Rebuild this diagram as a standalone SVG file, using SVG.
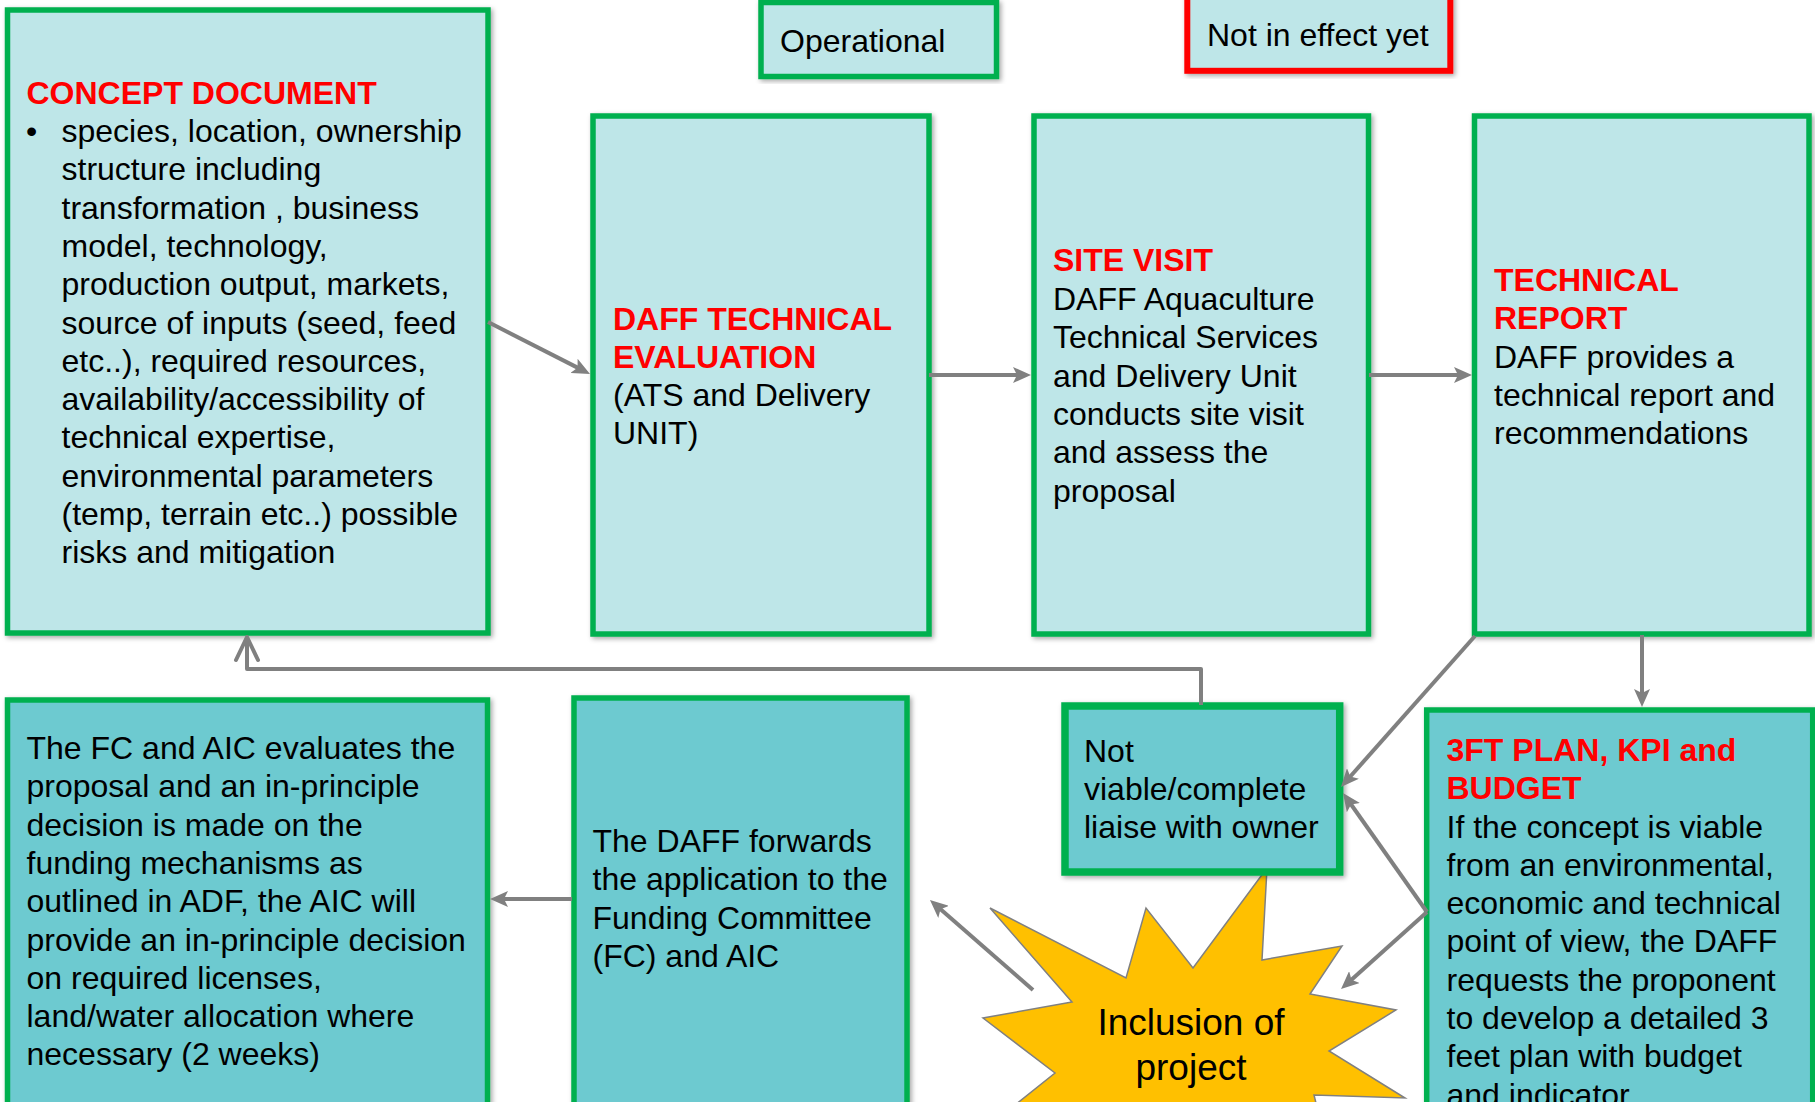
<svg xmlns="http://www.w3.org/2000/svg" width="1815" height="1102" viewBox="0 0 1815 1102">
<defs>
<style>
.lt{fill:#BEE6E8;stroke:#00B050;stroke-width:5.5}
.dk{fill:#6DCAD0;stroke:#00B050;stroke-width:5.5}
.t{font-family:"Liberation Sans",Arial,sans-serif;font-size:32px;fill:#000}
.h{font-family:"Liberation Sans",Arial,sans-serif;font-size:32px;font-weight:bold;fill:#FF0000}
.c{fill:none;stroke:#808080;stroke-width:4}
</style>
<filter id="sh" x="-10%" y="-10%" width="120%" height="120%">
<feDropShadow dx="2" dy="2" stdDeviation="2.5" flood-color="#000" flood-opacity="0.35"/>
</filter>
<marker id="ar" viewBox="0 0 18 16" refX="10" refY="8" markerWidth="18" markerHeight="16" markerUnits="userSpaceOnUse" orient="auto">
<path d="M0,0 L18,8 L0,16 L4,8 z" fill="#808080"/>
</marker>
<marker id="op" viewBox="-28 -14 32 28" refX="0" refY="0" markerWidth="32" markerHeight="28" markerUnits="userSpaceOnUse" orient="auto">
<path d="M-23,-11 L0,0 L-23,11" fill="none" stroke="#808080" stroke-width="4" stroke-linecap="round" stroke-linejoin="round"/>
</marker>
</defs>
<rect width="1815" height="1102" fill="#FFFFFF"/>

<g id="legend-operational">
<rect class="lt" x="761" y="2.5" width="235.5" height="74" filter="url(#sh)"/>
<text class="t" x="780" y="52">Operational</text>
</g>
<g id="legend-not-in-effect">
<rect x="1187.3" y="-5" width="263" height="75.8" fill="#BEE6E8" stroke="#FF0000" stroke-width="6" filter="url(#sh)"/>
<text class="t" x="1207" y="46">Not in effect yet</text>
</g>

<g id="star">
<polygon points="1267,868 1262,960 1342,946 1310,994 1396,1010 1329,1051 1405,1098 1314,1095 1330,1160 1190,1150 1060,1160 990,1125 1055,1073 983,1018 1072,1002 990,908 1126,978 1146,908 1193,968" fill="#FFC000" stroke="#808080" stroke-width="1.5"/>
<text class="t" style="font-size:37px" x="1191" y="1035" text-anchor="middle">Inclusion of</text>
<text class="t" style="font-size:37px" x="1191" y="1080" text-anchor="middle">project</text>
</g>

<g id="concept-document">
<rect class="lt" x="7.5" y="10" width="480.5" height="623" filter="url(#sh)"/>
<text class="h" x="26.5" y="104">CONCEPT DOCUMENT</text>
<text class="t" x="26" y="142">•</text>
<text class="t">
<tspan x="61.5" y="142">species, location, ownership</tspan>
<tspan x="61.5" y="180.3">structure including</tspan>
<tspan x="61.5" y="218.6">transformation , business</tspan>
<tspan x="61.5" y="256.9">model, technology,</tspan>
<tspan x="61.5" y="295.2">production output, markets,</tspan>
<tspan x="61.5" y="333.5">source of inputs (seed, feed</tspan>
<tspan x="61.5" y="371.8">etc..), required resources,</tspan>
<tspan x="61.5" y="410.1">availability/accessibility of</tspan>
<tspan x="61.5" y="448.4">technical expertise,</tspan>
<tspan x="61.5" y="486.7">environmental parameters</tspan>
<tspan x="61.5" y="525">(temp, terrain etc..) possible</tspan>
<tspan x="61.5" y="563.3">risks and mitigation</tspan>
</text>
</g>

<g id="daff-technical-evaluation">
<rect class="lt" x="593" y="116" width="336" height="518" filter="url(#sh)"/>
<text class="h"><tspan x="613" y="330">DAFF TECHNICAL</tspan><tspan x="613" y="368">EVALUATION</tspan></text>
<text class="t"><tspan x="613" y="406">(ATS and Delivery</tspan><tspan x="613" y="444">UNIT)</tspan></text>
</g>

<g id="site-visit">
<rect class="lt" x="1034" y="116" width="334.5" height="518" filter="url(#sh)"/>
<text class="h" x="1053" y="271">SITE VISIT</text>
<text class="t">
<tspan x="1053" y="310">DAFF Aquaculture</tspan>
<tspan x="1053" y="348.3">Technical Services</tspan>
<tspan x="1053" y="386.6">and Delivery Unit</tspan>
<tspan x="1053" y="424.9">conducts site visit</tspan>
<tspan x="1053" y="463.2">and assess the</tspan>
<tspan x="1053" y="501.5">proposal</tspan>
</text>
</g>

<g id="technical-report">
<rect class="lt" x="1474.5" y="116" width="334.5" height="518" filter="url(#sh)"/>
<text class="h"><tspan x="1494" y="291">TECHNICAL</tspan><tspan x="1494" y="329">REPORT</tspan></text>
<text class="t">
<tspan x="1494" y="367.5">DAFF provides a</tspan>
<tspan x="1494" y="405.8">technical report and</tspan>
<tspan x="1494" y="444.1">recommendations</tspan>
</text>
</g>

<g id="fc-aic-evaluation">
<rect class="dk" x="7.5" y="700" width="480" height="430" filter="url(#sh)"/>
<text class="t">
<tspan x="26.5" y="759">The FC and AIC evaluates the</tspan>
<tspan x="26.5" y="797.3">proposal and an in-principle</tspan>
<tspan x="26.5" y="835.6">decision is made on the</tspan>
<tspan x="26.5" y="873.9">funding mechanisms as</tspan>
<tspan x="26.5" y="912.2">outlined in ADF, the AIC will</tspan>
<tspan x="26.5" y="950.5">provide an in-principle decision</tspan>
<tspan x="26.5" y="988.8">on required licenses,</tspan>
<tspan x="26.5" y="1027.1">land/water allocation where</tspan>
<tspan x="26.5" y="1065.4">necessary (2 weeks)</tspan>
</text>
</g>

<g id="daff-forwards">
<rect class="dk" x="574" y="698" width="333" height="430" filter="url(#sh)"/>
<text class="t">
<tspan x="592.5" y="852">The DAFF forwards</tspan>
<tspan x="592.5" y="890.3">the application to the</tspan>
<tspan x="592.5" y="928.6">Funding Committee</tspan>
<tspan x="592.5" y="966.9">(FC) and AIC</tspan>
</text>
</g>

<g id="not-viable">
<rect class="dk" x="1065" y="706" width="274.7" height="166" style="stroke-width:7.5" filter="url(#sh)"/>
<text class="t">
<tspan x="1084" y="762">Not</tspan>
<tspan x="1084" y="799.5">viable/complete</tspan>
<tspan x="1084" y="837.5">liaise with owner</tspan>
</text>
</g>

<g id="three-ft-plan">
<rect class="dk" x="1426.7" y="710" width="386" height="430" filter="url(#sh)"/>
<text class="h"><tspan x="1446.5" y="761">3FT PLAN, KPI and</tspan><tspan x="1446.5" y="799">BUDGET</tspan></text>
<text class="t">
<tspan x="1446.5" y="837.5">If the concept is viable</tspan>
<tspan x="1446.5" y="875.8">from an environmental,</tspan>
<tspan x="1446.5" y="914.1">economic and technical</tspan>
<tspan x="1446.5" y="952.4">point of view, the DAFF</tspan>
<tspan x="1446.5" y="990.7">requests the proponent</tspan>
<tspan x="1446.5" y="1029">to develop a detailed 3</tspan>
<tspan x="1446.5" y="1067.3">feet plan with budget</tspan>
<tspan x="1446.5" y="1105.6">and indicator</tspan>
</text>
</g>

<g id="connectors">
<line class="c" x1="488" y1="322" x2="582.9" y2="370.4" marker-end="url(#ar)"/>
<line class="c" x1="929" y1="375" x2="1023" y2="375" marker-end="url(#ar)"/>
<line class="c" x1="1369" y1="375" x2="1464" y2="375" marker-end="url(#ar)"/>
<line class="c" x1="1642" y1="635" x2="1642" y2="699" marker-end="url(#ar)"/>
<line class="c" x1="1475" y1="636" x2="1346.3" y2="781" marker-end="url(#ar)"/>
<line class="c" x1="1427" y1="912" x2="1347.6" y2="799.5" marker-end="url(#ar)"/>
<line class="c" x1="1427" y1="912" x2="1347" y2="983.7" marker-end="url(#ar)"/>
<line class="c" x1="1033" y1="990" x2="936" y2="905.3" marker-end="url(#ar)"/>
<line class="c" x1="572" y1="899" x2="498" y2="899" marker-end="url(#ar)"/>
<polyline class="c" points="1201,705 1201,669 247,669 247,637" stroke-linejoin="round" marker-end="url(#op)"/>
</g>
</svg>
